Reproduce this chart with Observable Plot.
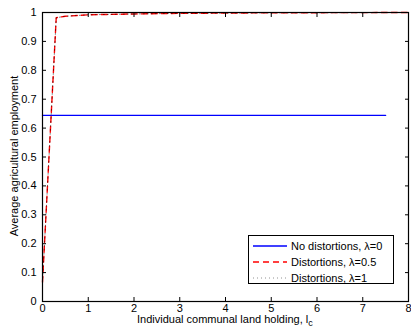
<!DOCTYPE html>
<html>
<head>
<meta charset="utf-8">
<script src="https://cdn.jsdelivr.net/npm/d3@7"></script>
<script src="https://cdn.jsdelivr.net/npm/@observablehq/plot@0.6"></script>
<style>
  html, body { margin: 0; padding: 0; background: #fff; }
  #wrap { position: relative; width: 411px; height: 330px; font-family: "Liberation Sans", Arial, sans-serif; }
  #wrap svg { display: block; }
  .lbl { position: absolute; font-size: 11px; color: #000; white-space: nowrap; }
  #legend { position: absolute; left: 248px; top: 235px; width: 144px; height: 47px; border: 1px solid #000; background: #fff; }
  .row { position: absolute; left: 0; height: 14px; font-size: 11px; line-height: 14px; }
  .row svg { position: absolute; left: 4px; top: 3px; }
  .row span { position: absolute; left: 42px; top: 0; white-space: nowrap; }
</style>
</head>
<body>
<div id="wrap"></div>
<script>
// Data
const seriesNames = ["No distortions, λ=0", "Distortions, λ=0.5", "Distortions, λ=1"];
const noDistX = [0, 7.5];
const noDistY = [0.644, 0.644];
const distX = [0, 0.3, 0.5, 1, 2, 3, 5, 8];
const distY05 = [0.067, 0.982, 0.987, 0.992, 0.995, 0.997, 0.999, 1.0];
const distY1  = [0.067, 0.982, 0.987, 0.992, 0.995, 0.997, 0.999, 1.0];
const xTicks = [0, 1, 2, 3, 4, 5, 6, 7, 8];
const yTicks = [0, 0.1, 0.2, 0.3, 0.4, 0.5, 0.6, 0.7, 0.8, 0.9, 1];
const yTickLabels = ["0", "0.1", "0.2", "0.3", "0.4", "0.5", "0.6", "0.7", "0.8", "0.9", "1"];

const blue = noDistX.map((x, i) => ({x, y: noDistY[i]}));
const red = distX.map((x, i) => ({x, y: distY05[i]}));
const dot = distX.map((x, i) => ({x, y: distY1[i]}));

const plot = Plot.plot({
  width: 411,
  height: 330,
  marginLeft: 42,
  marginRight: 3,
  marginTop: 12,
  marginBottom: 29,
  style: {fontFamily: "Liberation Sans, Arial, sans-serif", fontSize: "11px", background: "#fff", overflow: "visible"},
  x: {domain: [0, 8]},
  y: {domain: [0, 1]},
  marks: [
    Plot.line(blue, {x: "x", y: "y", stroke: "#0000ff", strokeWidth: 1.3}),
    Plot.line(red, {x: "x", y: "y", stroke: "#ff0000", strokeWidth: 1.4, strokeDasharray: "6,4"}),
    Plot.line(dot, {x: "x", y: "y", stroke: "#000", strokeWidth: 0.7, strokeOpacity: 0.7, strokeDasharray: "1,3"}),
    // inward ticks
    Plot.axisX(xTicks, {anchor: "bottom", tickSize: 4, dy: -4, text: null, label: null, stroke: "#000"}),
    Plot.axisX(xTicks, {anchor: "top", tickSize: 4, dy: 4, text: null, label: null, stroke: "#000"}),
    Plot.axisY(yTicks, {anchor: "left", tickSize: 4, dx: 4, text: null, label: null, stroke: "#000"}),
    Plot.axisY(yTicks, {anchor: "right", tickSize: 4, dx: -4, text: null, label: null, stroke: "#000"}),
    // tick labels
    Plot.axisX(xTicks, {anchor: "bottom", tickSize: 0, tickPadding: 3, label: null, fill: "#000", fontSize: 11}),
    Plot.axisY(yTicks, {anchor: "left", tickSize: 0, tickPadding: 6, label: null, fill: "#000", fontSize: 11,
      tickFormat: (d) => yTickLabels[yTicks.indexOf(d)]}),
    Plot.frame({stroke: "#000", strokeWidth: 1.2})
  ]
});

const wrap = document.getElementById("wrap");
wrap.appendChild(plot);

// Axis labels
const xl = document.createElement("div");
xl.className = "lbl";
xl.innerHTML = 'Individual communal land holding, l<sub style="font-size:9px;vertical-align:-3px;">c</sub>';
wrap.appendChild(xl);
xl.style.left = (225 - xl.offsetWidth / 2) + "px";
xl.style.top = "313px";

const yl = document.createElement("div");
yl.className = "lbl";
yl.textContent = "Average agricultural employment";
wrap.appendChild(yl);
const w = yl.offsetWidth, h = yl.offsetHeight;
yl.style.left = (14 - w / 2) + "px";
yl.style.top = (156 - h / 2) + "px";
yl.style.transform = "rotate(-90deg)";

// Legend
const legend = document.createElement("div");
legend.id = "legend";
const styles = [
  {stroke: "#0000ff", dash: "", width: 1.3},
  {stroke: "#ff0000", dash: "6,4", width: 1.4},
  {stroke: "#777", dash: "1,3", width: 0.8}
];
seriesNames.forEach((name, i) => {
  const row = document.createElement("div");
  row.className = "row";
  row.style.top = (3 + i * 16) + "px";
  row.style.width = "144px";
  const s = styles[i];
  row.innerHTML = `<svg width="34" height="8"><line x1="0" y1="4" x2="34" y2="4" stroke="${s.stroke}" stroke-width="${s.width}" ${s.dash ? `stroke-dasharray="${s.dash}"` : ""}/></svg><span>${name}</span>`;
  legend.appendChild(row);
});
wrap.appendChild(legend);
</script>
</body>
</html>
